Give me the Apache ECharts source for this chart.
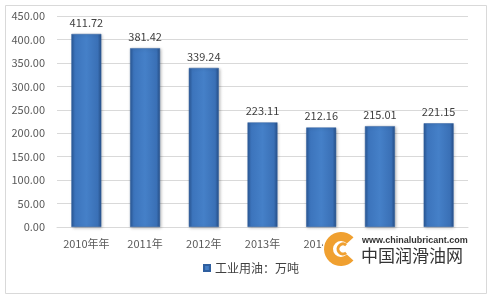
<!DOCTYPE html>
<html><head><meta charset="utf-8">
<script src="https://cdn.jsdelivr.net/npm/echarts@6/dist/echarts.min.js"></script>
<style>html,body{margin:0;padding:0;background:#fff}#c{width:488px;height:296px}</style>
</head><body><div id="c"></div>
<script>
var categories = ['2010年年','2011年','2012年','2013年','2014年','2015年','2016年'];
var values = [411.72, 381.42, 339.24, 223.11, 212.16, 215.01, 221.15];
var yTicks = [0, 50, 100, 150, 200, 250, 300, 350, 400, 450];
var seriesName = '工业用油：万吨';

var chart = echarts.init(document.getElementById('c'), null, {renderer:'canvas'});
var font = '"Microsoft YaHei","Noto Sans CJK SC",sans-serif';
var orange = '#f0a030';
chart.setOption({
  animation:false,
  backgroundColor:'#fff',
  grid:{left:57, right:20, top:16, bottom:69},
  legend:{
    data:[seriesName], bottom:17, left:198, itemWidth:6, itemHeight:6, itemGap:4,
    icon:'rect', textStyle:{color:'#404040', fontSize:12, fontFamily:font}
  },
  xAxis:{
    type:'category', data:categories, z:1,
    axisLine:{lineStyle:{color:'#d9d9d9'}}, axisTick:{show:false},
    axisLabel:{color:'#595959', fontSize:11, fontFamily:font, margin:11, interval:0}
  },
  yAxis:{
    type:'value', min:yTicks[0], max:yTicks[yTicks.length-1], interval:50,
    axisLine:{show:false}, axisTick:{show:false},
    splitLine:{lineStyle:{color:'#d9d9d9'}},
    axisLabel:{color:'#595959', fontSize:11, fontFamily:font, margin:12,
      formatter:function(v){return v.toFixed(2);}}
  },
  series:[{
    name:seriesName, type:'bar', data:values, barWidth:'51%',
    itemStyle:{
      color:new echarts.graphic.LinearGradient(0,0,1,0,[
        {offset:0,color:'#2a5896'},{offset:0.12,color:'#3c74bc'},
        {offset:0.5,color:'#4580c8'},{offset:0.88,color:'#3a70b6'},{offset:1,color:'#264f88'}]),
      borderColor:'#2f5f9f', borderWidth:0.5,
      shadowColor:'rgba(0,0,0,0.25)', shadowBlur:3, shadowOffsetX:1, shadowOffsetY:1
    },
    label:{show:true, position:'top', distance:6, color:'#404040', fontSize:11, fontFamily:font,
      formatter:function(p){return p.value.toFixed(2);}}
  }],
  graphic:[
    {type:'rect', left:3, top:3, shape:{width:481, height:288}, style:{fill:'none', stroke:'#d9d9d9', lineWidth:1}, silent:true},
    {type:'rect', z:100, shape:{x:323, y:231, width:140, height:37}, style:{fill:'#fff'}},
    {type:'sector', z:101, shape:{cx:341, cy:249, r:17, r0:8, startAngle:0.75, endAngle:-0.75+Math.PI*2, clockwise:true}, style:{fill:orange}},
    {type:'sector', z:101, shape:{cx:343, cy:249, r:6.5, r0:3.5, startAngle:0.9, endAngle:-0.9+Math.PI*2, clockwise:true}, style:{fill:orange}},
    {type:'text', z:101, x:362, y:236, style:{text:'www.chinalubricant.com', fill:'#333', font:'bold 9px "Liberation Sans",sans-serif'}},
    {type:'text', z:101, x:361, y:247, style:{text:'中国润滑油网', fill:'#333', font:'17px "Noto Sans CJK SC",sans-serif'}}
  ]
});
</script></body></html>
